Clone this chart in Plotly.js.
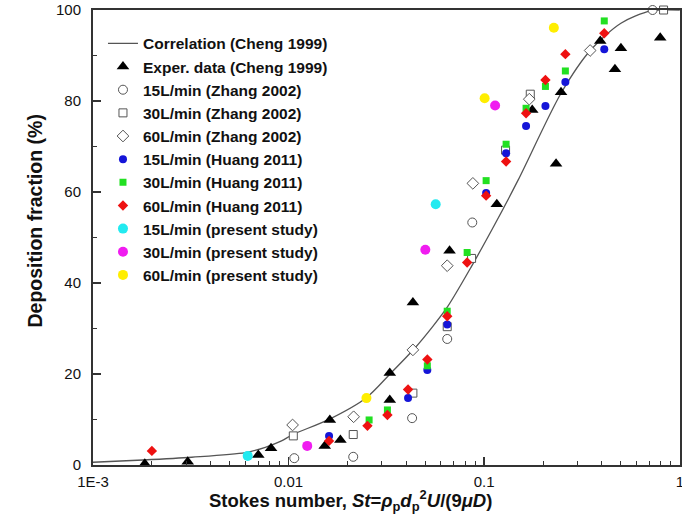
<!DOCTYPE html>
<html>
<head>
<meta charset="utf-8">
<script src="https://cdn.plot.ly/plotly-3.0.1.min.js"></script>
<style>
  html, body { margin: 0; padding: 0; background: #fff; }
  #chart { width: 682px; height: 522px; }
</style>
</head>
<body>
<div id="chart"></div>
<script>
// Correlation curve (Cheng 1999), sampled along the drawn line
const corrSt = [0.001, 0.0018, 0.0032, 0.006, 0.0076, 0.0092, 0.0104, 0.0162, 0.025, 0.033, 0.044, 0.054, 0.065, 0.086, 0.113, 0.149, 0.247, 0.35, 0.5, 0.71, 1.0];
const corrDF = [0.6, 1.1, 1.7, 2.7, 3.9, 5.3, 6.6, 10.1, 14.8, 20.0, 25.6, 30.2, 34.8, 43.6, 52.8, 62.6, 81.7, 91.2, 97.1, 99.8, 100];

// Experimental data (Cheng 1999)
const chengSt = [0.00184, 0.00305, 0.0070, 0.00813, 0.0153, 0.01625, 0.0184, 0.0329, 0.0329, 0.0432, 0.0665, 0.116, 0.176, 0.233, 0.247, 0.392, 0.466, 0.500, 0.794];
const chengDF = [0.3, 0.7, 2.2, 3.7, 4.2, 9.9, 5.5, 14.3, 20.2, 35.7, 47.1, 57.3, 78.0, 66.2, 81.9, 93.2, 87.0, 91.6, 93.9];

// Zhang 2002
const zhang15St = [0.01069, 0.0214, 0.0428, 0.0647, 0.0869, 0.726];
const zhang15DF = [1.5, 1.8, 10.3, 27.7, 53.3, 100];
const zhang30St = [0.01057, 0.0214, 0.0432, 0.0647, 0.0862, 0.1286, 0.172, 0.826];
const zhang30DF = [6.4, 6.7, 15.8, 30.4, 45.4, 69.2, 81.5, 100];
const zhang60St = [0.01048, 0.0215, 0.0432, 0.0647, 0.0875, 0.170, 0.348];
const zhang60DF = [8.8, 10.6, 25.3, 43.8, 61.9, 80.4, 91.1];

// Huang 2011
const huang15St = [0.0161, 0.0408, 0.0512, 0.0647, 0.1023, 0.1294, 0.1637, 0.2056, 0.260, 0.411];
const huang15DF = [6.4, 14.7, 20.9, 30.9, 59.8, 68.5, 74.5, 78.9, 84.2, 91.4];
const huang30St = [0.0258, 0.0320, 0.0512, 0.0647, 0.0818, 0.1023, 0.1294, 0.1637, 0.2056, 0.260, 0.411];
const huang30DF = [9.9, 12.1, 21.8, 33.8, 46.7, 62.5, 70.5, 78.4, 83.2, 86.6, 97.6];
const huang60St = [0.0020, 0.0161, 0.0253, 0.0320, 0.0408, 0.0512, 0.0647, 0.0818, 0.1023, 0.1294, 0.1637, 0.2056, 0.260, 0.411];
const huang60DF = [3.1, 5.3, 8.6, 11.0, 16.6, 23.2, 32.7, 44.5, 59.2, 66.7, 77.3, 84.6, 90.3, 94.9];

// Present study
const present15St = [0.00618, 0.0565];
const present15DF = [2.0, 57.3];
const present30St = [0.01245, 0.0500, 0.1137];
const present30DF = [4.2, 47.3, 79.0];
const present60St = [0.0250, 0.1005, 0.227];
const present60DF = [14.7, 80.6, 96.1];

const xTickVals = [0.001, 0.01, 0.1, 1];
const xTickText = ['1E-3', '0.01', '0.1', '1'];

// minor tick positions: 2..9 within each decade
const xMinor = [];
for (const d of [0.001, 0.01, 0.1]) {
  for (let k = 2; k <= 9; k++) xMinor.push(d * k);
}

const FONT = 'Arial, "Liberation Sans", Helvetica, sans-serif';
const openLine = { color: '#555', width: 1 };

function pts(name, x, y, symbol, size, color, line) {
  return {
    type: 'scatter', mode: 'markers', name: name, x: x, y: y,
    marker: { symbol: symbol, size: size, color: color, line: line || { width: 0 } },
    cliponaxis: false
  };
}

const traces = [
  { type: 'scatter', mode: 'lines', name: 'Correlation (Cheng 1999)', x: corrSt, y: corrDF,
    line: { color: '#555', width: 1.3, shape: 'spline', smoothing: 0.8 } },
  pts('Exper. data (Cheng 1999)', chengSt, chengDF, 'triangle-up', 11, '#000'),
  pts('15L/min (Zhang 2002)', zhang15St, zhang15DF, 'circle', 9, '#fff', openLine),
  pts('30L/min (Zhang 2002)', zhang30St, zhang30DF, 'square', 8, '#fff', openLine),
  pts('60L/min (Zhang 2002)', zhang60St, zhang60DF, 'diamond', 9, '#fff', openLine),
  pts('15L/min (Huang 2011)', huang15St, huang15DF, 'circle', 8, '#1515d8'),
  pts('30L/min (Huang 2011)', huang30St, huang30DF, 'square', 7, '#22e022'),
  pts('60L/min (Huang 2011)', huang60St, huang60DF, 'diamond', 8, '#ee1111'),
  pts('15L/min (present study)', present15St, present15DF, 'circle', 10, '#22eaf0'),
  pts('30L/min (present study)', present30St, present30DF, 'circle', 10, '#f01cf0'),
  pts('60L/min (present study)', present60St, present60DF, 'circle', 10, '#ffee00')
];

const axisLine = '#333';

const layout = {
  width: 682, height: 522,
  margin: { l: 93, r: 2, t: 10, b: 57 },
  paper_bgcolor: '#fff', plot_bgcolor: '#fff',
  font: { family: FONT, size: 15, color: '#111' },
  showlegend: true,
  legend: {
    x: 0.017, y: 0.963, xanchor: 'left', yanchor: 'top',
    bgcolor: 'rgba(0,0,0,0)', borderwidth: 0,
    font: { family: FONT, size: 15.5, color: '#111', weight: 'bold' },
    tracegroupgap: 0
  },
  xaxis: {
    type: 'log', range: [-3, 0.001],
    tickmode: 'array', tickvals: xTickVals, ticktext: xTickText,
    ticks: 'inside', ticklen: 8, tickwidth: 1.5, tickcolor: axisLine,
    showline: true, linecolor: axisLine, linewidth: 2, mirror: true,
    showgrid: false, zeroline: false,
    ticklabelstandoff: 2, ticklabeloverflow: 'allow',
    tickfont: { family: FONT, size: 15, color: '#111' },
    minor: { tickmode: 'array', tickvals: xMinor, ticks: 'inside', ticklen: 4, tickwidth: 1, tickcolor: axisLine, showgrid: false }
  },
  yaxis: {
    range: [0, 100], tickmode: 'linear', tick0: 0, dtick: 20,
    ticks: 'inside', ticklen: 8, tickwidth: 1.5, tickcolor: axisLine,
    showline: true, linecolor: axisLine, linewidth: 2, mirror: true,
    showgrid: false, zeroline: false,
    ticklabelstandoff: 7,
    tickfont: { family: FONT, size: 15, color: '#111' },
    minor: { dtick: 10, ticks: 'inside', ticklen: 4, tickwidth: 1, tickcolor: axisLine, showgrid: false }
  },
  annotations: [
    { xref: 'paper', yref: 'paper', x: 0.438, y: 0, yshift: -20, yanchor: 'top', showarrow: false,
      text: '<b>Stokes number, <i>St</i>=<i>ρ</i><sub>p</sub><i>d</i><sub>p</sub><sup>2</sup><i>U</i>/(9<i>μD</i>)</b>',
      font: { family: FONT, size: 18.5, color: '#111' } },
    { xref: 'paper', yref: 'paper', x: 0, xshift: -72, y: 0.5, yshift: 16, textangle: -90, showarrow: false,
      text: '<b>Deposition fraction (%)</b>',
      font: { family: FONT, size: 19.5, color: '#111' } }
  ]
};

Plotly.newPlot('chart', traces, layout, { displayModeBar: false, staticPlot: true });
</script>
</body>
</html>
